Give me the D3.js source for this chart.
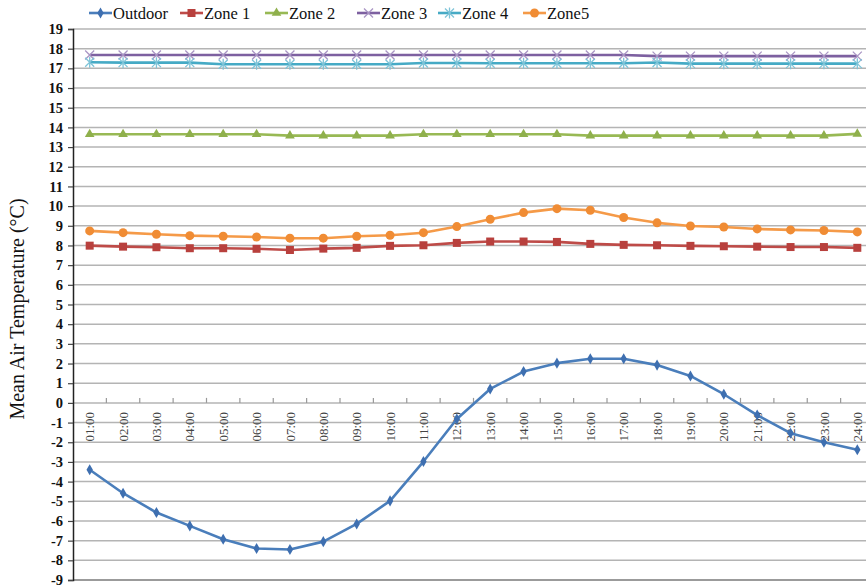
<!DOCTYPE html>
<html><head><meta charset="utf-8">
<script src="https://cdn.jsdelivr.net/npm/d3@7"></script>
<style>body{margin:0;background:#fff}svg{display:block}</style>
</head><body>
<svg id="c" width="866" height="587"></svg>
<script>
const hours = ["01:00","02:00","03:00","04:00","05:00","06:00","07:00","08:00","09:00","10:00","11:00","12:00","13:00","14:00","15:00","16:00","17:00","18:00","19:00","20:00","21:00","22:00","23:00","24:00"];
const yTicks = d3.range(-9, 20);
const outdoor = [-3.40,-4.59,-5.57,-6.25,-6.93,-7.40,-7.45,-7.05,-6.15,-4.98,-2.98,-0.82,0.71,1.59,2.02,2.24,2.24,1.92,1.37,0.44,-0.62,-1.54,-2.00,-2.38];
const zone1 = [7.99,7.94,7.91,7.86,7.86,7.83,7.77,7.84,7.88,7.98,8.01,8.13,8.20,8.20,8.18,8.08,8.03,8.01,7.98,7.96,7.94,7.92,7.92,7.88];
const zone2 = [13.65,13.65,13.65,13.65,13.65,13.65,13.58,13.58,13.58,13.58,13.65,13.65,13.65,13.65,13.65,13.58,13.58,13.58,13.58,13.58,13.58,13.58,13.58,13.67];
const zone3 = [17.68,17.68,17.68,17.68,17.68,17.68,17.68,17.68,17.68,17.68,17.68,17.68,17.68,17.68,17.68,17.68,17.68,17.62,17.62,17.62,17.62,17.62,17.62,17.62];
const zone4 = [17.31,17.29,17.29,17.29,17.21,17.21,17.21,17.21,17.21,17.21,17.27,17.27,17.26,17.26,17.26,17.26,17.26,17.30,17.24,17.24,17.24,17.24,17.24,17.24];
const zone5 = [8.74,8.65,8.57,8.50,8.47,8.43,8.37,8.37,8.47,8.52,8.65,8.96,9.33,9.67,9.87,9.79,9.42,9.15,8.99,8.94,8.84,8.79,8.76,8.69];
const seriesNames = ["Outdoor","Zone 1","Zone 2","Zone 3","Zone 4","Zone5"];

const series = [
  {name:seriesNames[0], values:outdoor, color:"#4a7ebb", marker:"diamond", mcolor:"#3e6fb0"},
  {name:seriesNames[1], values:zone1, color:"#be4b48", marker:"square", mcolor:"#b8403d"},
  {name:seriesNames[2], values:zone2, color:"#98b954", marker:"triangle", mcolor:"#8fb04c"},
  {name:seriesNames[3], values:zone3, color:"#7d60a0", marker:"x", mcolor:"#a995c4"},
  {name:seriesNames[4], values:zone4, color:"#46aac5", marker:"star", mcolor:"#7fc4d8"},
  {name:seriesNames[5], values:zone5, color:"#f59a48", marker:"circle", mcolor:"#f08c34"}
];

const SERIF = "'Liberation Serif','Times New Roman',serif";
const svg = d3.select("#c");
const x = d3.scaleBand().domain(hours).range([73, 874]).padding(0);
const cx = d => x(d) + x.bandwidth()/2;
const y = d3.scaleLinear().domain([-9, 19]).range([580, 29]);

// gridlines
svg.append("g").selectAll("line").data(yTicks).join("line")
  .attr("x1", 73).attr("x2", 874)
  .attr("y1", d => y(d)).attr("y2", d => y(d))
  .attr("stroke", d => d === -9 ? "#7a7a7a" : "#b4b4b4")
  .attr("stroke-width", 1.5);

// left axis
const yAxis = d3.axisLeft(y).tickValues(yTicks).tickSize(5).tickFormat(d => String(d));
const ga = svg.append("g").attr("transform","translate(73,0)").call(yAxis)
  .attr("font-family", SERIF);
ga.select(".domain").attr("stroke","#222").attr("stroke-width",1.5);
ga.selectAll(".tick line").attr("stroke","#444").attr("stroke-width",1.2);
ga.selectAll(".tick text").attr("x",-10)
  .attr("font-family", SERIF)
  .attr("font-size","14.5px").attr("font-weight","bold").attr("fill","#111");

// x axis at y=0
const xAxis = d3.axisBottom(x).tickSize(0).tickFormat(d=>d);
const gx = svg.append("g").attr("transform",`translate(0,${y(0)})`).call(xAxis)
  .attr("font-family", SERIF);
gx.select(".domain").remove();
gx.selectAll(".tick text")
  .attr("transform","rotate(-90)")
  .attr("x",-9).attr("y",0).attr("dy","0.35em")
  .attr("text-anchor","end")
  .attr("font-family", SERIF)
  .attr("font-size","13px").attr("fill","#444");
// category tick marks between categories
svg.append("g").selectAll("line").data(hours.slice(1)).join("line")
  .attr("x1", d => x(d)).attr("x2", d => x(d))
  .attr("y1", y(0)-5).attr("y2", y(0))
  .attr("stroke","#999").attr("stroke-width",1.2);

// y title
svg.append("text")
  .attr("transform","translate(24,309) rotate(-90)")
  .attr("text-anchor","middle")
  .attr("font-family", SERIF)
  .attr("font-size","20px").attr("fill","#111")
  .text("Mean Air Temperature (°C)");

function drawMarker(g, type, color, size) {
  const s = size;
  if (type === "diamond") {
    g.append("path").attr("d", d3.symbol(d3.symbolDiamond, s*s*0.55)()).attr("fill", color);
  } else if (type === "square") {
    g.append("rect").attr("x",-s/2).attr("y",-s/2).attr("width",s).attr("height",s).attr("fill",color);
  } else if (type === "triangle") {
    g.append("path").attr("d", d3.symbol(d3.symbolTriangle, s*s*0.5)()).attr("fill", color);
  } else if (type === "circle") {
    g.append("circle").attr("r", s/2).attr("fill", color);
  } else if (type === "x") {
    const h = s/2;
    g.append("path").attr("d",`M${-h},${-h}L${h},${h}M${-h},${h}L${h},${-h}`)
      .attr("stroke",color).attr("stroke-width",1.3).attr("fill","none");
  } else if (type === "star") {
    const h = s/2;
    g.append("path").attr("d",`M${-h},${-h}L${h},${h}M${-h},${h}L${h},${-h}M0,${-h-1}L0,${h+1}`)
      .attr("stroke",color).attr("stroke-width",1.3).attr("fill","none");
  }
}

const msize = {diamond:8, square:8, triangle:9, circle:9, x:9, star:9};
const line = d3.line().x((d,i)=>cx(hours[i])).y(d=>y(d));

// draw order: zones first, outdoor last on top
const order = [3,4,2,5,1,0];
order.forEach(k => {
  const s = series[k];
  const g = svg.append("g");
  g.append("path").datum(s.values).attr("d", line)
    .attr("fill","none").attr("stroke", s.color).attr("stroke-width", 2.6)
    .attr("stroke-linejoin","round");
  s.values.forEach((v,i) => {
    const mg = g.append("g").attr("transform",`translate(${cx(hours[i])},${y(v)})`);
    drawMarker(mg, s.marker, s.mcolor, msize[s.marker]);
  });
});

// legend
const legX = [89, 180, 265, 357, 438, 523];
const lg = svg.append("g");
series.forEach((s,i) => {
  const g = lg.append("g").attr("transform",`translate(${legX[i]},13)`);
  g.append("line").attr("x1",0).attr("x2",23).attr("y1",0).attr("y2",0)
    .attr("stroke", s.color).attr("stroke-width",2.6);
  const mg = g.append("g").attr("transform","translate(11.5,0)");
  drawMarker(mg, s.marker, s.mcolor, msize[s.marker]);
  g.append("text").attr("x",24).attr("y",6)
    .attr("font-family", SERIF)
    .attr("font-size","16.5px").attr("fill","#111").text(s.name);
});
</script>
</body></html>
